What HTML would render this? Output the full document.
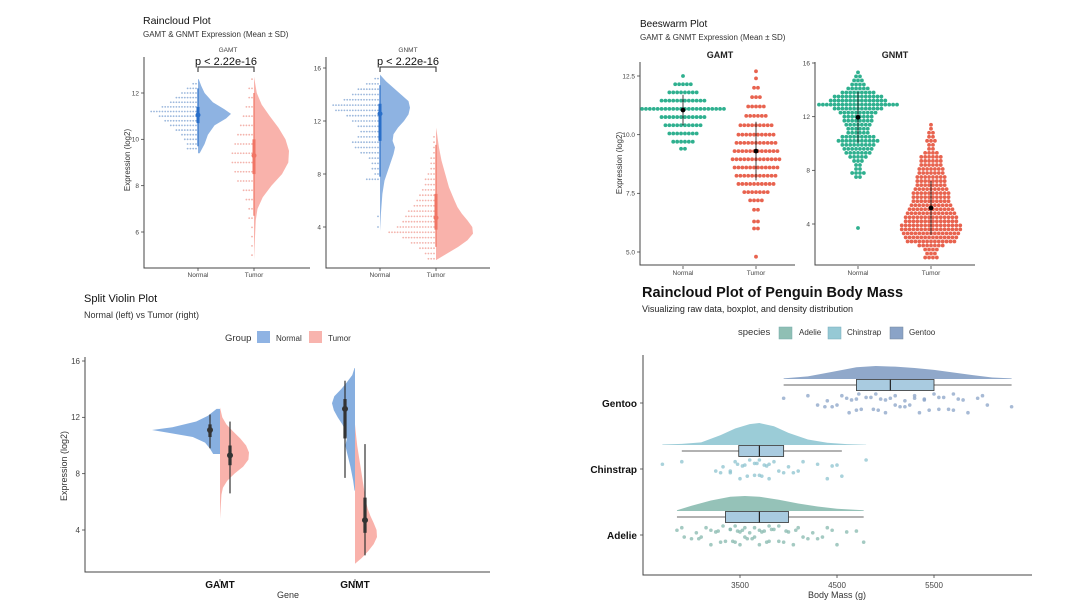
<!DOCTYPE html>
<html><head><meta charset="utf-8">
<style>
html,body{margin:0;padding:0;background:#fff;}
svg{display:block;font-family:"Liberation Sans",sans-serif;}
</style></head>
<body>
<svg id="fig" width="1080" height="602" viewBox="0 0 1080 602" xmlns="http://www.w3.org/2000/svg">
<rect x="0" y="0" width="1080" height="602" fill="#fff"/>
<!-- Raincloud -->
<text x="143" y="24" font-size="10.5" fill="#111">Raincloud Plot</text>
<text x="143" y="37" font-size="8" fill="#333">GAMT &amp; GNMT Expression (Mean ± SD)</text>
<text x="228" y="52" font-size="6.5" fill="#444" text-anchor="middle">GAMT</text>
<text x="408" y="52" font-size="6.5" fill="#444" text-anchor="middle">GNMT</text>
<text x="226" y="65" font-size="11" fill="#111" text-anchor="middle">p &lt; 2.22e-16</text>
<text x="408" y="65" font-size="11" fill="#111" text-anchor="middle">p &lt; 2.22e-16</text>
<path d="M198 72V67H254V72M380 72V67H436V72" fill="none" stroke="#222" stroke-width="1"/>
<text transform="translate(130,160) rotate(-90)" font-size="8" fill="#333" text-anchor="middle">Expression (log2)</text>
<!-- Beeswarm -->
<text x="640" y="27" font-size="10" fill="#111">Beeswarm Plot</text>
<text x="640" y="40" font-size="8" fill="#333">GAMT &amp; GNMT Expression (Mean ± SD)</text>
<text x="720" y="58" font-size="9" font-weight="bold" fill="#222" text-anchor="middle">GAMT</text>
<text x="895" y="58" font-size="9" font-weight="bold" fill="#222" text-anchor="middle">GNMT</text>
<text transform="translate(622,163) rotate(-90)" font-size="8" fill="#333" text-anchor="middle">Expression (log2)</text>
<!-- Split violin -->
<text x="84" y="302" font-size="11" fill="#111">Split Violin Plot</text>
<text x="84" y="318" font-size="9" fill="#333">Normal (left) vs Tumor (right)</text>
<text x="225" y="341" font-size="9.5" fill="#333">Group</text>
<rect x="257" y="331" width="13" height="12" fill="#8fb3e3"/>
<text x="276" y="341" font-size="8" fill="#333">Normal</text>
<rect x="309" y="331" width="13" height="12" fill="#f8b4ae"/>
<text x="328" y="341" font-size="8" fill="#333">Tumor</text>
<text transform="translate(67,466) rotate(-90)" font-size="9" fill="#333" text-anchor="middle">Expression (log2)</text>
<text x="288" y="598" font-size="9" fill="#333" text-anchor="middle">Gene</text>
<!-- Penguin -->
<text x="642" y="297" font-size="14.5" font-weight="bold" fill="#111">Raincloud Plot of Penguin Body Mass</text>
<text x="642" y="312" font-size="9" fill="#222">Visualizing raw data, boxplot, and density distribution</text>
<text x="738" y="335" font-size="9.5" fill="#333">species</text>
<rect x="779" y="327" width="13" height="12" fill="#8fbfb4" stroke="#7aa" stroke-width="0.5"/>
<text x="799" y="335" font-size="8" fill="#333">Adelie</text>
<rect x="828" y="327" width="13" height="12" fill="#96c9d5" stroke="#7ab" stroke-width="0.5"/>
<text x="847" y="335" font-size="8" fill="#333">Chinstrap</text>
<rect x="890" y="327" width="13" height="12" fill="#8aa3c7" stroke="#789" stroke-width="0.5"/>
<text x="909" y="335" font-size="8" fill="#333">Gentoo</text>
<text x="837" y="598" font-size="9" fill="#333" text-anchor="middle">Body Mass (g)</text>
</svg>
<script>
// ---------- DATA ----------
const rcGamtNormalGrid=[9.4,9.8,10.2,10.6,10.9,11.1,11.3,11.6,12.0,12.3,12.6];
const rcGamtNormalDens=[0.05,0.2,0.3,0.5,0.85,1,0.8,0.45,0.2,0.1,0.02];
const rcGamtTumorGrid=[4.8,5.5,6.5,7.0,7.5,8.0,8.5,9.0,9.5,10,10.5,11,11.5,12,12.7];
const rcGamtTumorDens=[0,0.02,0.05,0.1,0.25,0.5,0.8,0.98,1,0.9,0.7,0.45,0.22,0.08,0];
const rcGnmtNormalGrid=[3.7,5,6.5,7.5,8.5,9.5,10,10.5,11,11.5,12,12.5,13,13.5,14,14.5,15,15.5];
const rcGnmtNormalDens=[0,0.03,0.08,0.15,0.3,0.45,0.5,0.42,0.45,0.6,0.8,0.95,1,0.95,0.7,0.45,0.2,0];
const rcGnmtTumorGrid=[1.5,2,2.5,3,3.5,4,4.5,5,5.5,6,7,8,9,10,11,11.5];
const rcGnmtTumorDens=[0,0.3,0.6,0.85,1,0.98,0.85,0.7,0.58,0.5,0.35,0.25,0.15,0.08,0.03,0];
const rcGamtNormalBins=[9.6,9.8,10.0,10.2,10.4,10.6,10.8,11.0,11.2,11.4,11.6,11.8,12.0,12.2,12.4];
const rcGamtNormalCounts=[4,4,5,6,8,10,12,14,17,13,10,8,6,4,2];
const rcGamtTumorBins=[5.0,5.4,5.8,6.2,6.6,7.0,7.4,7.8,8.2,8.6,9.0,9.4,9.8,10.2,10.6,11.0,11.4,11.8,12.2,12.6];
const rcGamtTumorCounts=[1,1,1,1,2,2,3,4,6,7,8,8,7,6,5,4,3,2,2,1];
const rcGnmtNormalBins=[4.0,4.4,4.8,5.2,5.6,6.0,6.4,6.8,7.2,7.6,8.0,8.4,8.8,9.2,9.6,10.0,10.4,10.8,11.2,11.6,12.0,12.4,12.8,13.2,13.6,14.0,14.4,14.8,15.2];
const rcGnmtNormalCounts=[1,0,1,0,0,0,0,0,0,5,2,3,3,4,7,9,10,8,7,8,10,12,16,17,13,10,8,5,2];
const rcGnmtTumorBins=[1.6,2.0,2.4,2.8,3.2,3.6,4.0,4.4,4.8,5.2,5.6,6.0,6.4,6.8,7.2,7.6,8.0,8.4,8.8,9.2,9.6,10.0,10.4,10.8];
const rcGnmtTumorCounts=[3,4,6,9,12,17,14,12,11,10,8,7,6,5,4,4,3,2,2,2,1,1,1,1];
const rcGamtNormalStat=[11.05,9.7,12.2,10.7,11.4];
const rcGamtTumorStat=[9.3,6.7,12.0,8.5,10.0];
const rcGnmtNormalStat=[12.55,7.8,14.7,10.5,13.3];
const rcGnmtTumorStat=[4.7,2.5,10.2,3.8,6.5];
const bsGamtNormalVals=[12.5,12.15,11.8,11.45,11.1,10.75,10.4,10.05,9.7,9.4];
const bsGamtNormalCounts=[1,5,8,12,22,12,10,8,6,2];
const bsGamtTumorVals=[12.7,12.4,12.0,11.6,11.2,10.8,10.4,10.0,9.65,9.3,8.95,8.6,8.25,7.9,7.55,7.2,6.8,6.3,6.0,4.8];
const bsGamtTumorCounts=[1,1,2,3,5,6,9,10,11,12,13,12,11,10,7,4,2,2,2,1];
const bsGnmtNormalVals=[15.3,15.0,14.7,14.4,14.1,13.8,13.5,13.2,12.9,12.6,12.3,12.0,11.7,11.4,11.1,10.8,10.5,10.2,9.9,9.6,9.3,9.0,8.7,8.4,8.1,7.8,7.5,3.7];
const bsGnmtNormalCounts=[1,2,3,4,6,9,13,15,21,13,10,8,8,7,6,6,9,11,9,8,7,5,3,2,2,4,2,1];
const bsGnmtTumorVals=[11.4,11.1,10.8,10.5,10.2,9.9,9.6,9.3,9.0,8.7,8.4,8.1,7.8,7.5,7.2,6.9,6.6,6.3,6.0,5.7,5.4,5.1,4.8,4.5,4.2,3.9,3.6,3.3,3.0,2.7,2.4,2.1,1.8,1.5];
const bsGnmtTumorCounts=[1,1,2,2,3,2,2,4,6,6,6,7,7,8,8,8,9,10,10,10,11,12,13,14,14,16,16,15,14,13,7,4,3,4];
const bsGamtNormalStat=[11.05,0.65];
const bsGamtTumorStat=[9.3,1.25];
const bsGnmtNormalStat=[11.95,1.9];
const bsGnmtTumorStat=[5.2,2.0];
const svGamtNormalGrid=[9.4,9.8,10.2,10.6,10.9,11.1,11.3,11.7,12.1,12.6];
const svGamtNormalDens=[0.1,0.15,0.22,0.4,0.75,1,0.7,0.35,0.18,0.05];
const svGamtTumorGrid=[4.8,5.5,6.5,7.0,7.5,8.0,8.5,9.0,9.5,10,10.5,11,11.5,12,12.7];
const svGamtTumorDens=[0,0.02,0.05,0.1,0.25,0.5,0.8,0.98,1,0.9,0.7,0.45,0.22,0.08,0];
const svGnmtNormalGrid=[6.8,7.5,8.5,9.5,10,10.5,11,11.5,12,12.5,13,13.5,14,14.5,15,15.5];
const svGnmtNormalDens=[0.02,0.08,0.2,0.35,0.42,0.35,0.4,0.55,0.75,0.92,1,0.9,0.6,0.35,0.12,0.02];
const svGnmtTumorGrid=[1.6,2,2.5,3,3.5,4,4.5,5,5.5,6,7,8,9,10,11,11.5];
const svGnmtTumorDens=[0,0.3,0.6,0.85,1,0.98,0.85,0.7,0.58,0.5,0.4,0.3,0.2,0.1,0.03,0];
const svGamtNormalStat=[11.1,9.8,12.2,10.6,11.5];
const svGamtTumorStat=[9.3,6.6,11.7,8.6,10.0];
const svGnmtNormalStat=[12.6,7.7,14.6,10.5,13.3];
const svGnmtTumorStat=[4.7,2.2,10.1,3.8,6.3];
const pgSpecies=['Adelie','Chinstrap','Gentoo'];
const pgAdelieGrid=[2850,3000,3200,3400,3550,3700,3900,4100,4300,4500,4775];
const pgAdelieDens=[0.05,0.35,0.7,0.95,1,0.95,0.75,0.5,0.3,0.15,0.05];
const pgChinGrid=[2700,2900,3100,3300,3450,3600,3700,3850,4000,4200,4400,4600,4800];
const pgChinDens=[0.02,0.05,0.12,0.45,0.75,0.95,1,0.85,0.55,0.25,0.1,0.04,0.01];
const pgGentooGrid=[3950,4200,4450,4700,4900,5100,5300,5500,5700,5900,6100,6300];
const pgGentooDens=[0.05,0.2,0.55,0.9,1,0.95,0.85,0.7,0.5,0.3,0.12,0.05];
const pgAdelieBox=[2850,3350,3700,4000,4775];
const pgChinBox=[2900,3487,3700,3950,4550];
const pgGentooBox=[3950,4700,5050,5500,6300];
const pgAdelieMass=[2850,2900,2925,3000,3050,3075,3100,3150,3200,3200,3250,3275,3300,3325,3350,3400,3400,3425,3450,3450,3475,3500,3500,3525,3550,3550,3575,3600,3625,3650,3650,3700,3700,3725,3750,3775,3800,3800,3825,3850,3900,3900,3950,3975,4000,4050,4075,4100,4150,4200,4250,4300,4350,4400,4450,4500,4600,4700,4775];
const pgChinMass=[2700,2900,3250,3300,3325,3400,3400,3450,3475,3500,3525,3550,3575,3600,3650,3650,3675,3700,3700,3725,3750,3775,3800,3800,3850,3900,3950,4000,4050,4100,4150,4300,4400,4450,4500,4550,4800];
const pgGentooMass=[3950,4200,4300,4375,4400,4450,4500,4550,4600,4625,4650,4700,4700,4725,4750,4800,4850,4875,4900,4925,4950,5000,5000,5050,5100,5100,5150,5200,5200,5250,5300,5300,5350,5400,5400,5450,5500,5550,5550,5600,5650,5700,5700,5750,5800,5850,5950,6000,6050,6300];
const pgTicks=[3500,4500,5500];
const rcGamtTicks=[6,8,10,12];
const rcGnmtTicks=[4,8,12,16];
const bsGamtTicks=[5.0,7.5,10.0,12.5];
const bsGnmtTicks=[4,8,12,16];
const svTicks=[4,8,12,16];
const svGenes=['GAMT','GNMT'];
const groups=['Normal','Tumor'];

// ---------- DRAW ----------
const NS='http://www.w3.org/2000/svg';
const svg=document.getElementById('fig');
function named(e,n){
  
  
}
function mk(tag,attrs,name){
  const e=document.createElementNS(NS,tag);
  for(const k in attrs) e.setAttribute(k,attrs[k]);
  named(e,name);
  svg.appendChild(e);
  return e;
}
function txt(x,y,s,attrs,name){
  const e=mk('text',Object.assign({x:x,y:y},attrs),name);
  e.textContent=s;
  return e;
}
function linY(v0,p0,v1,p1){return v=>p0+(v-v0)*(p1-p0)/(v1-v0);}
function halfDens(grid,dens,cx,ys,side,maxW){
  let d='M'+cx+' '+ys(grid[0]);
  for(let i=0;i<grid.length;i++) d+='L'+(cx+side*dens[i]*maxW)+' '+ys(grid[i]);
  d+='L'+cx+' '+ys(grid[grid.length-1])+'Z';
  return d;
}
function axes(x0,y0,x1,y1,name){
  mk('path',{d:'M'+x0+' '+y0+'V'+y1+'H'+x1,fill:'none',stroke:'#444','stroke-width':1},name);
}
function yTicks(ticks,ys,x,fs,name,fmt){
  ticks.forEach(t=>{
    mk('line',{x1:x-3,x2:x,y1:ys(t),y2:ys(t),stroke:'#444','stroke-width':0.8},name+'-tick');
    txt(x-5,ys(t)+fs*0.35,fmt?fmt(t):String(t),{'font-size':fs,fill:'#444','text-anchor':'end'},name+'-label');
  });
}
function xLabels(labels,xs,y,fs,name,bold){
  labels.forEach((l,i)=>{
    mk('line',{x1:xs[i],x2:xs[i],y1:y-9,y2:y-6,stroke:'#444','stroke-width':0.8},name+'-tick');
    txt(xs[i],y,l,{'font-size':fs,fill:bold?'#111':'#444','text-anchor':'middle','font-weight':bold?'bold':'normal'},name+'-label');
  });
}
function pointRange(cx,ys,st,col,r,tw,name){
  mk('line',{x1:cx,x2:cx,y1:ys(st[1]),y2:ys(st[2]),stroke:col,'stroke-width':1.2},name+'-whisker');
  mk('line',{x1:cx,x2:cx,y1:ys(st[3]),y2:ys(st[4]),stroke:col,'stroke-width':tw},name+'-interval');
  mk('circle',{cx:cx,cy:ys(st[0]),r:r,fill:col},name+'-mean');
}
function dotHist(bins,counts,cx,ys,col,name){
  bins.forEach((b,i)=>{
    for(let k=0;k<counts[i];k++){
      mk('circle',{cx:cx-2-k*2.8,cy:ys(b),r:0.9,fill:col,opacity:0.75},name);
    }
  });
}
function swarm(vals,counts,cx,ys,col,name){
  vals.forEach((v,i)=>{
    const n=counts[i];
    for(let k=0;k<n;k++){
      mk('circle',{cx:cx+(k-(n-1)/2)*3.9,cy:ys(v),r:1.9,fill:col},name);
    }
  });
}

// Raincloud GAMT
const rcY1=linY(12,93,6,232);
const rcX1=[198,254];
axes(144,57,310,268,'raincloud-gamt-axes');
yTicks(rcGamtTicks,rcY1,144,6.5,'raincloud-gamt-y');
xLabels(groups,rcX1,277,6.5,'raincloud-gamt-x');
mk('path',{d:halfDens(rcGamtNormalGrid,rcGamtNormalDens,rcX1[0],rcY1,1,33),fill:'#7aa6dd',opacity:0.85},'cloud-gamt-normal');
mk('path',{d:halfDens(rcGamtTumorGrid,rcGamtTumorDens,rcX1[1],rcY1,1,35),fill:'#f8a59c',opacity:0.85},'cloud-gamt-tumor');
dotHist(rcGamtNormalBins,rcGamtNormalCounts,rcX1[0],rcY1,'#7a9fd0','rain-dot-gamt-normal');
dotHist(rcGamtTumorBins,rcGamtTumorCounts,rcX1[1],rcY1,'#ef9a90','rain-dot-gamt-tumor');
pointRange(rcX1[0],rcY1,rcGamtNormalStat,'#2a6fc9',2.5,3,'raincloud-gamt-normal');
pointRange(rcX1[1],rcY1,rcGamtTumorStat,'#f07565',2.5,3,'raincloud-gamt-tumor');

// Raincloud GNMT
const rcY2=linY(16,68,4,227);
const rcX2=[380,436];
axes(326,57,490,268,'raincloud-gnmt-axes');
yTicks(rcGnmtTicks,rcY2,326,6.5,'raincloud-gnmt-y');
xLabels(groups,rcX2,277,6.5,'raincloud-gnmt-x');
mk('path',{d:halfDens(rcGnmtNormalGrid,rcGnmtNormalDens,rcX2[0],rcY2,1,30),fill:'#7aa6dd',opacity:0.85},'cloud-gnmt-normal');
mk('path',{d:halfDens(rcGnmtTumorGrid,rcGnmtTumorDens,rcX2[1],rcY2,1,37),fill:'#f8a59c',opacity:0.85},'cloud-gnmt-tumor');
dotHist(rcGnmtNormalBins,rcGnmtNormalCounts,rcX2[0],rcY2,'#7a9fd0','rain-dot-gnmt-normal');
dotHist(rcGnmtTumorBins,rcGnmtTumorCounts,rcX2[1],rcY2,'#ef9a90','rain-dot-gnmt-tumor');
pointRange(rcX2[0],rcY2,rcGnmtNormalStat,'#2a6fc9',2.5,3,'raincloud-gnmt-normal');
pointRange(rcX2[1],rcY2,rcGnmtTumorStat,'#f07565',2.5,3,'raincloud-gnmt-tumor');

// Beeswarm GAMT
const bsY1=linY(12.5,76,5.0,252);
const bsX1=[683,756];
axes(640,62,795,265,'beeswarm-gamt-axes');
yTicks(bsGamtTicks,bsY1,640,6.5,'beeswarm-gamt-y',t=>t.toFixed(1));
xLabels(groups,bsX1,275,6.5,'beeswarm-gamt-x');
swarm(bsGamtNormalVals,bsGamtNormalCounts,bsX1[0],bsY1,'#2fb08f','swarm-point-gamt-normal');
swarm(bsGamtTumorVals,bsGamtTumorCounts,bsX1[1],bsY1,'#e8634f','swarm-point-gamt-tumor');
[[bsGamtNormalStat,0],[bsGamtTumorStat,1]].forEach(([s,i])=>{
  mk('line',{x1:bsX1[i],x2:bsX1[i],y1:bsY1(s[0]-s[1]),y2:bsY1(s[0]+s[1]),stroke:'#111','stroke-width':0.8},'beeswarm-gamt-sd');
  mk('circle',{cx:bsX1[i],cy:bsY1(s[0]),r:2.4,fill:'#000'},'beeswarm-gamt-mean');
});
// Beeswarm GNMT
const bsY2=linY(16,63,4,224);
const bsX2=[858,931];
axes(815,62,975,265,'beeswarm-gnmt-axes');
yTicks(bsGnmtTicks,bsY2,815,6.5,'beeswarm-gnmt-y');
xLabels(groups,bsX2,275,6.5,'beeswarm-gnmt-x');
swarm(bsGnmtNormalVals,bsGnmtNormalCounts,bsX2[0],bsY2,'#2fb08f','swarm-point-gnmt-normal');
swarm(bsGnmtTumorVals,bsGnmtTumorCounts,bsX2[1],bsY2,'#e8634f','swarm-point-gnmt-tumor');
[[bsGnmtNormalStat,0],[bsGnmtTumorStat,1]].forEach(([s,i])=>{
  mk('line',{x1:bsX2[i],x2:bsX2[i],y1:bsY2(s[0]-s[1]),y2:bsY2(s[0]+s[1]),stroke:'#111','stroke-width':0.8},'beeswarm-gnmt-sd');
  mk('circle',{cx:bsX2[i],cy:bsY2(s[0]),r:2.4,fill:'#000'},'beeswarm-gnmt-mean');
});

// Split violin
const svY=linY(16,361,4,530);
const svX=[220,355];
axes(85,357,490,572,'split-violin-axes');
yTicks(svTicks,svY,85,8,'split-violin-y');
xLabels(svGenes,svX,588,10,'split-violin-x',true);
mk('path',{d:halfDens(svGamtNormalGrid,svGamtNormalDens,svX[0],svY,-1,68),fill:'#7aa6dd',opacity:0.9},'violin-gamt-normal');
mk('path',{d:halfDens(svGamtTumorGrid,svGamtTumorDens,svX[0],svY,1,29),fill:'#f8a59c',opacity:0.85},'violin-gamt-tumor');
mk('path',{d:halfDens(svGnmtNormalGrid,svGnmtNormalDens,svX[1],svY,-1,23),fill:'#7aa6dd',opacity:0.9},'violin-gnmt-normal');
mk('path',{d:halfDens(svGnmtTumorGrid,svGnmtTumorDens,svX[1],svY,1,22),fill:'#f8a59c',opacity:0.85},'violin-gnmt-tumor');
pointRange(svX[0]-10,svY,svGamtNormalStat,'#333',3,3.2,'split-gamt-normal');
pointRange(svX[0]+10,svY,svGamtTumorStat,'#333',3,3.2,'split-gamt-tumor');
pointRange(svX[1]-10,svY,svGnmtNormalStat,'#333',3,3.2,'split-gnmt-normal');
pointRange(svX[1]+10,svY,svGnmtTumorStat,'#333',3,3.2,'split-gnmt-tumor');

// Penguin
const pgX=linY(3500,740,4500,837);
const pgRowY=[535,469,403];
axes(643,355,1032,575,'penguin-axes');
pgTicks.forEach(t=>{
  mk('line',{x1:pgX(t),x2:pgX(t),y1:575,y2:578,stroke:'#444','stroke-width':0.8},'penguin-x-tick');
  txt(pgX(t),588,String(t),{'font-size':8,fill:'#444','text-anchor':'middle'},'penguin-x-tick-label');
});
pgSpecies.forEach((s,i)=>{
  mk('line',{x1:640,x2:643,y1:pgRowY[i],y2:pgRowY[i],stroke:'#444','stroke-width':0.8},'penguin-y-tick');
  txt(637,pgRowY[i]+4,s,{'font-size':10,'font-weight':'bold',fill:'#111','text-anchor':'end'},'penguin-y-label-'+s.toLowerCase());
});
const pgSets=[
  [pgAdelieGrid,pgAdelieDens,pgAdelieBox,pgAdelieMass,'#8fbfb4','#86b8ad',15,'adelie'],
  [pgChinGrid,pgChinDens,pgChinBox,pgChinMass,'#96c9d5','#8cc3cf',22,'chinstrap'],
  [pgGentooGrid,pgGentooDens,pgGentooBox,pgGentooMass,'#8aa3c7','#8aa3c7',13,'gentoo']];
pgSets.forEach(([g,d,b,m,col,pcol,h,nm],i)=>{
  const base=pgRowY[i]-24;
  let p='M'+pgX(g[0])+' '+base;
  for(let k=0;k<g.length;k++) p+='L'+pgX(g[k])+' '+(base-d[k]*h);
  p+='L'+pgX(g[g.length-1])+' '+base+'Z';
  mk('path',{d:p,fill:col,opacity:0.95},'density-'+nm);
  const by=pgRowY[i]-18;
  mk('line',{x1:pgX(b[0]),x2:pgX(b[4]),y1:by,y2:by,stroke:'#333','stroke-width':0.8},'box-whisker-'+nm);
  mk('rect',{x:pgX(b[1]),y:by-5.5,width:pgX(b[3])-pgX(b[1]),height:11,fill:'#a9cbe0',stroke:'#333','stroke-width':0.8},'box-'+nm);
  mk('line',{x1:pgX(b[2]),x2:pgX(b[2]),y1:by-5.5,y2:by+5.5,stroke:'#222','stroke-width':1.2},'box-median-'+nm);
  m.forEach((v,k)=>{
    const jy=pgRowY[i]-9+((k*k*7+k*13+5)%23)*0.85;
    mk('circle',{cx:pgX(v),cy:jy,r:1.8,fill:pcol,opacity:0.75},'point-'+nm);
  });
});
</script>
</body></html>
